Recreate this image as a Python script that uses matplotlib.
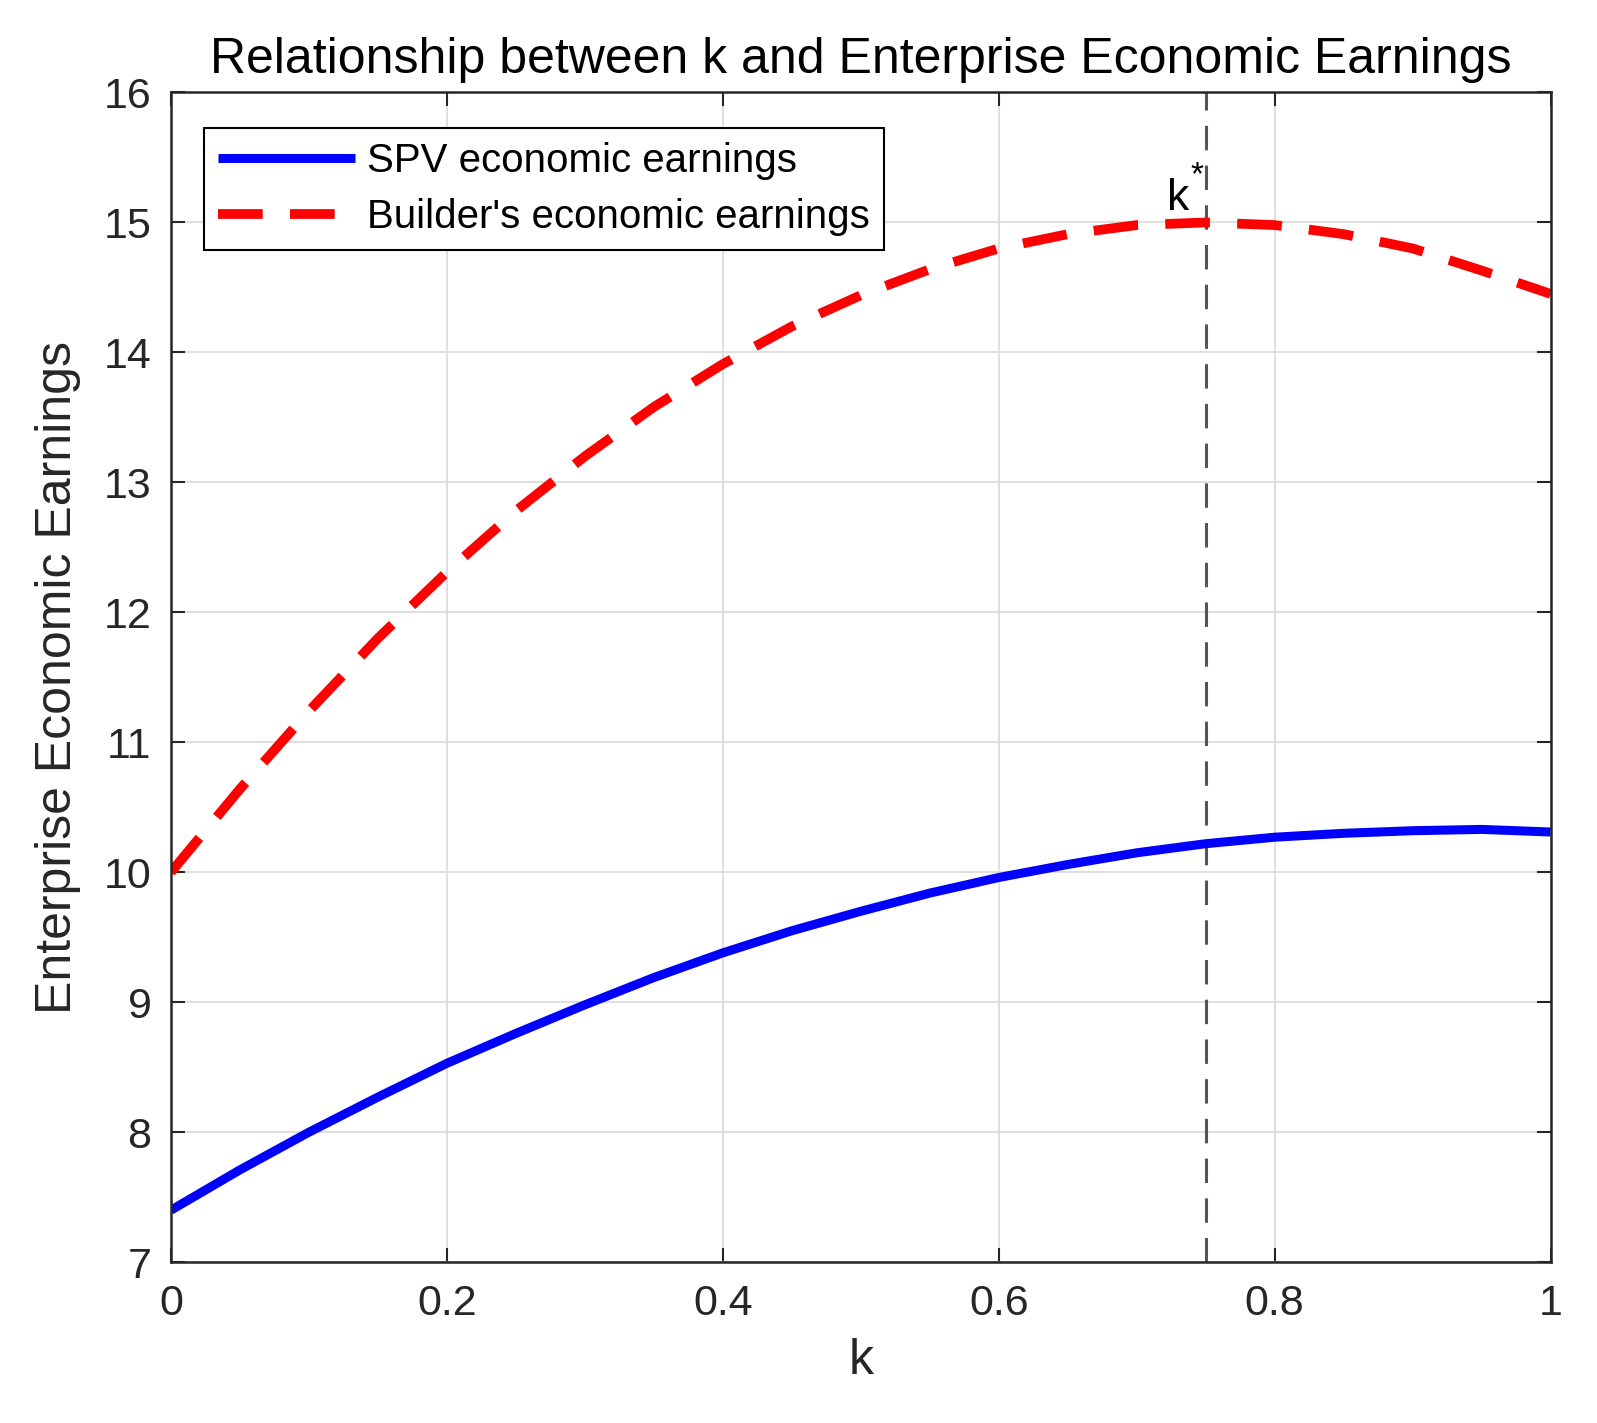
import numpy as np
import matplotlib
matplotlib.use("Agg")
import matplotlib.pyplot as plt

plt.rcParams['font.family'] = ['Liberation Sans', 'DejaVu Sans']

# data
k = [0.00, 0.05, 0.10, 0.15, 0.20, 0.25, 0.30, 0.35, 0.40, 0.45, 0.50,
     0.55, 0.60, 0.65, 0.70, 0.75, 0.80, 0.85, 0.90, 0.95, 1.00]
spv = [7.40, 7.71, 8.00, 8.27, 8.53, 8.76, 8.98, 9.19, 9.38, 9.55, 9.70,
       9.84, 9.96, 10.06, 10.15, 10.22, 10.27, 10.30, 10.32, 10.33, 10.31]
builder = [10.00, 10.64, 11.24, 11.80, 12.31, 12.78, 13.20, 13.58, 13.91, 14.20, 14.44,
           14.64, 14.80, 14.91, 14.98, 15.00, 14.98, 14.91, 14.80, 14.63, 14.45]
k_star = 0.75
xticks = [0, 0.2, 0.4, 0.6, 0.8, 1]
xticklabels = ['0', '0.2', '0.4', '0.6', '0.8', '1']
yticks = [7, 8, 9, 10, 11, 12, 13, 14, 15, 16]

fig = plt.figure(figsize=(15.97, 14.23), dpi=100)
ax = fig.add_axes([0.107, 0.113, 0.864, 0.822])

ax.plot(k, spv, color='blue', lw=6.5, label='SPV economic earnings',
        solid_capstyle='butt', solid_joinstyle='round')
ax.plot(k, builder, color='red', lw=7, dashes=(4.6, 2.8), label="Builder's economic earnings")
ax.axvline(k_star, color='#555555', lw=2.2, dashes=(8, 5), zorder=1)

# k* label
ax.text(k_star - 0.012, 15.03, 'k', fontsize=32, ha='right', va='bottom', color='black')
ax.text(k_star - 0.011, 15.24, '*', fontsize=24, ha='left', va='bottom', color='black')

ax.set_xlim(0, 1)
ax.set_ylim(7, 16)
ax.set_xticks(xticks)
ax.set_xticklabels(xticklabels)
ax.set_yticks(yticks)
ax.grid(True, color='#dcdcdc', lw=1.3)
ax.set_axisbelow(True)
ax.tick_params(direction='in', length=10, width=1.5, colors='#262626', labelsize=31,
               top=True, right=True, pad=16)
ax.tick_params(axis='y', pad=14)
for s in ax.spines.values():
    s.set_linewidth(1.8)
    s.set_color('#262626')

ax.set_xlabel('k', fontsize=36, color='#262626', labelpad=10)
ax.set_ylabel('Enterprise Economic Earnings', fontsize=36, color='#262626', labelpad=16)
ax.set_title('Relationship between k and Enterprise Economic Earnings', fontsize=36, pad=14)

leg = ax.legend(loc='upper left', bbox_to_anchor=(0.024, 0.97), fontsize=29, handlelength=3.4,
                fancybox=False, edgecolor='black', framealpha=1, borderpad=0.35,
                labelspacing=0.45, handletextpad=0.3, borderaxespad=0)
leg.get_frame().set_linewidth(1.5)

fig.savefig('out.png', dpi=100)
